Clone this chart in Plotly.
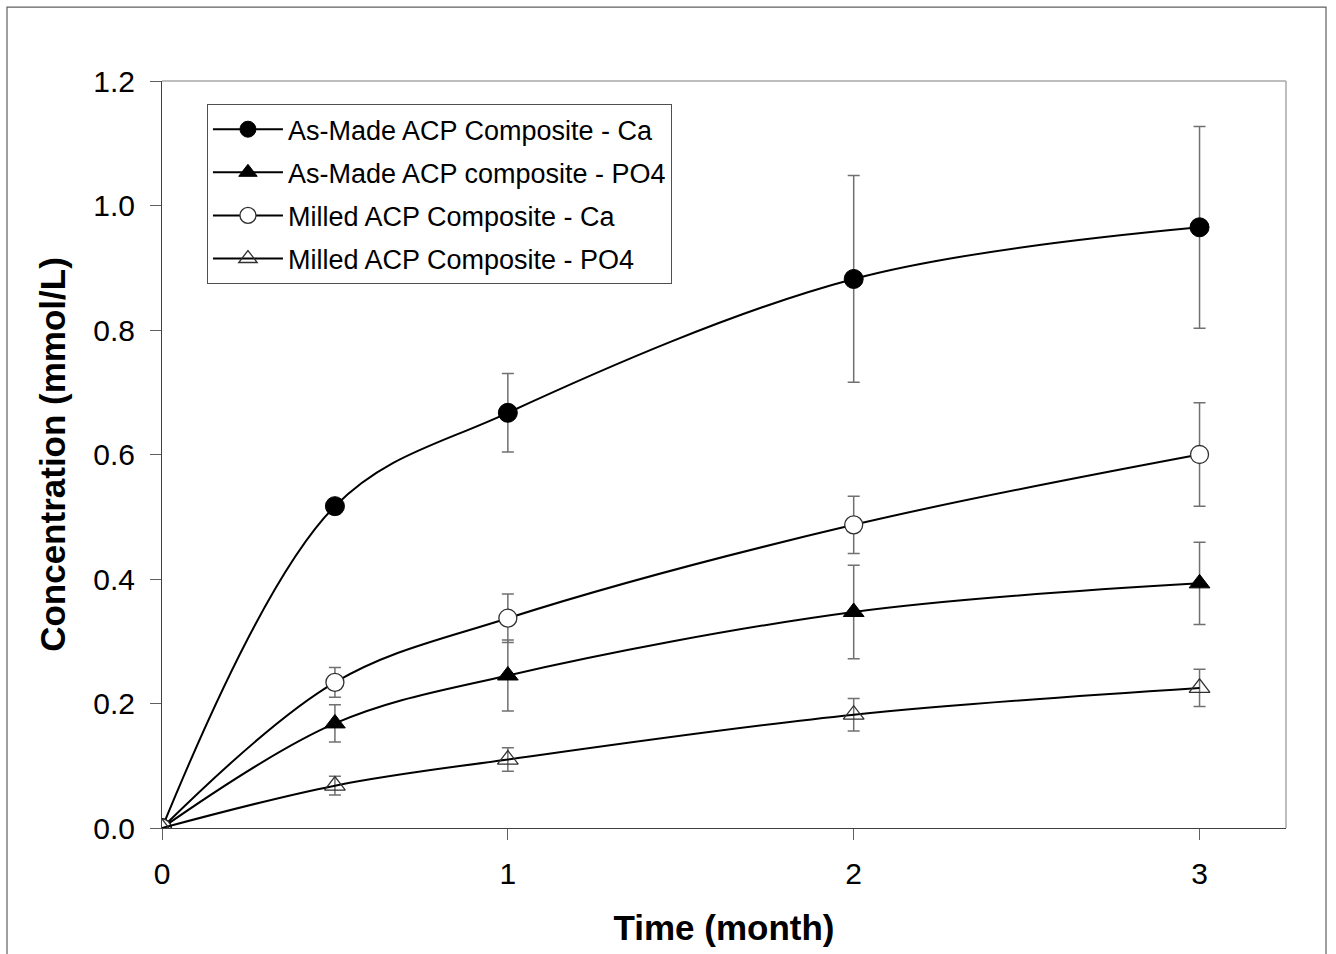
import plotly.graph_objects as go

time = [0, 0.5, 1, 2, 3]

asmade_ca = [0.0, 0.517, 0.667, 0.882, 0.965]
asmade_ca_err = [0.0, 0.012, 0.063, 0.166, 0.162]

asmade_po4 = [0.0, 0.168, 0.245, 0.347, 0.393]
asmade_po4_err = [0.0, 0.030, 0.057, 0.075, 0.066]

milled_ca = [0.0, 0.234, 0.337, 0.487, 0.600]
milled_ca_err = [0.0, 0.024, 0.039, 0.046, 0.083]

milled_po4 = [0.0, 0.068, 0.110, 0.182, 0.225]
milled_po4_err = [0.0, 0.015, 0.019, 0.026, 0.030]

names = ["As-Made ACP Composite - Ca", "As-Made ACP composite - PO4",
         "Milled ACP Composite - Ca", "Milled ACP Composite - PO4"]

FONT = "Liberation Sans, Arial, sans-serif"

fig = go.Figure()

def err(a):
    return dict(type="data", array=a, visible=True, color="#707070",
                thickness=1.5, width=6)

series = [
    (asmade_ca, asmade_ca_err, dict(symbol="circle", size=19, color="black",
                                    line=dict(color="black", width=1))),
    (asmade_po4, asmade_po4_err, dict(symbol="triangle-up", size=18, color="black",
                                      line=dict(color="black", width=1))),
    (milled_ca, milled_ca_err, dict(symbol="circle", size=18, color="white",
                                    line=dict(color="#303030", width=1.3))),
    (milled_po4, milled_po4_err, dict(symbol="triangle-up-open", size=18, color="#303030",
                                      line=dict(color="#303030", width=1.3))),
]

for i, (y, e, m) in enumerate(series):
    fig.add_trace(go.Scatter(
        x=time, y=y, name=names[i], mode="lines+markers",
        line=dict(color="black", width=2, shape="spline", smoothing=1),
        marker=m, error_y=err(e), legendgroup=str(i),
    ))

fig.update_layout(
    width=1336, height=954,
    margin=dict(l=162, r=50, t=81, b=126),
    paper_bgcolor="white", plot_bgcolor="white",
    font=dict(family=FONT, color="black"),
    showlegend=True,
    legend=dict(
        x=0.040, y=0.969, xanchor="left", yanchor="top",
        bgcolor="white", bordercolor="#505050", borderwidth=1,
        font=dict(family=FONT, size=27, color="black"),
        tracegroupgap=5, itemwidth=70,
    ),
    xaxis=dict(
        range=[0, 3.25], tickvals=[0, 1, 2, 3], ticktext=["0", "1", "2", "3"],
        showgrid=False, zeroline=False, showline=True, linecolor="#404040", linewidth=1,
        ticks="outside", ticklen=11, tickcolor="#606060", tickwidth=1,
        ticklabelstandoff=8,
        tickfont=dict(family=FONT, size=30, color="black"),
        title=dict(text="<b>Time (month)</b>", font=dict(family=FONT, size=35, color="black"),
                   standoff=26),
    ),
    yaxis=dict(
        range=[0, 1.2], tickvals=[0, 0.2, 0.4, 0.6, 0.8, 1.0, 1.2],
        ticktext=["0.0", "0.2", "0.4", "0.6", "0.8", "1.0", "1.2"],
        showgrid=False, zeroline=False, showline=True, linecolor="#404040", linewidth=1,
        ticks="outside", ticklen=11, tickcolor="#606060", tickwidth=1,
        ticklabelstandoff=9,
        tickfont=dict(family=FONT, size=30, color="black"),
        title=dict(text="<b>Concentration (mmol/L)</b>", font=dict(family=FONT, size=35, color="black"),
                   standoff=17),
    ),
    shapes=[
        dict(type="line", xref="paper", yref="paper", x0=0, x1=1, y0=1, y1=1,
             line=dict(color="#a8a8a8", width=1.5)),
        dict(type="line", xref="paper", yref="paper", x0=1, x1=1, y0=0, y1=1,
             line=dict(color="#a8a8a8", width=1.5)),
        dict(type="rect", xref="paper", yref="paper",
             x0=-0.1379, x1=1.0356, y0=-0.18, y1=1.099,
             line=dict(color="#606060", width=1.2), layer="below"),
    ],
)

fig.write_html("out.html")
